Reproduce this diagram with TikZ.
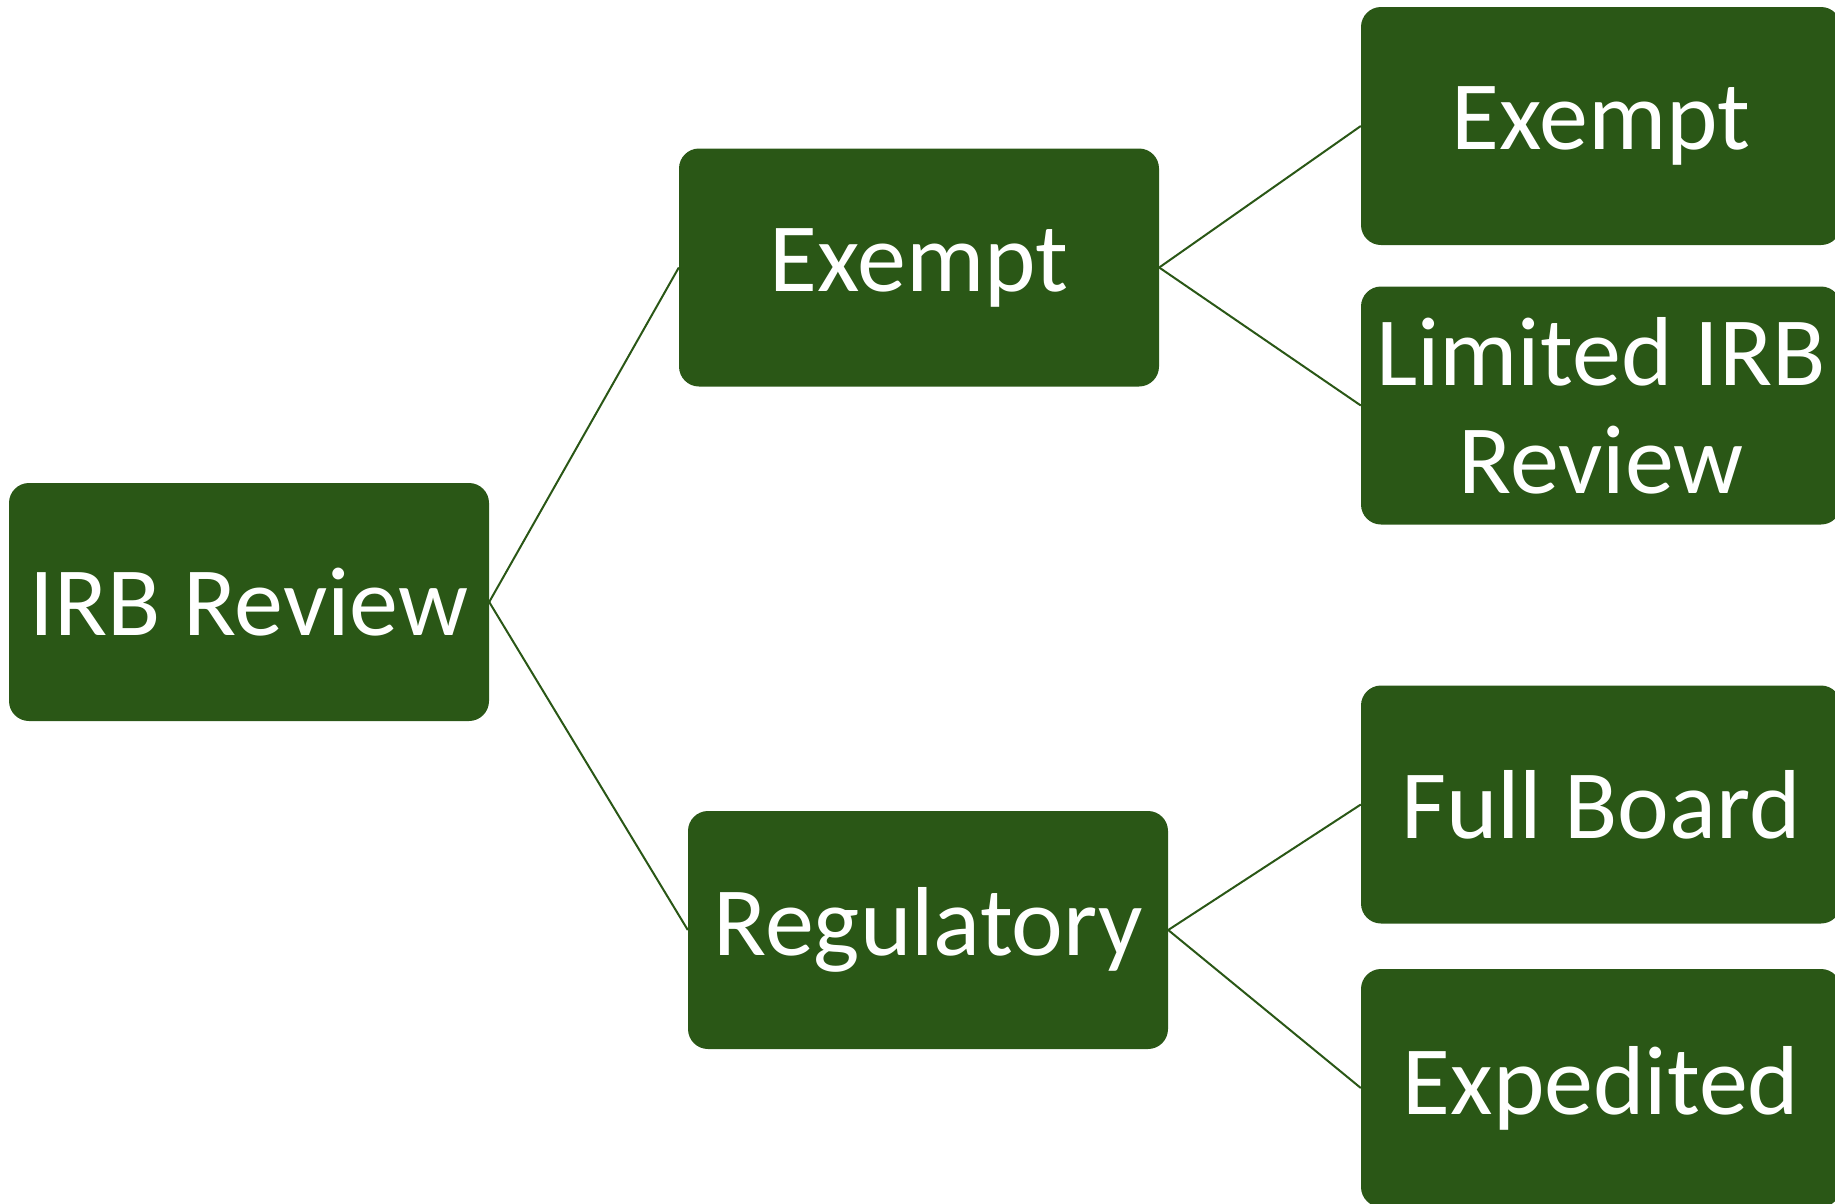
\documentclass[tikz,border=0pt]{standalone}
\usepackage{fontspec}
\setmainfont{Carlito}
\definecolor{leaf}{RGB}{42,87,22}
\begin{document}
\begin{tikzpicture}[x=1pt,y=-1pt,
  box/.style={draw=none, fill=leaf, rounded corners=20pt, minimum width=480pt,
    minimum height=238pt, inner sep=0pt, text=white, align=center,
    font=\fontsize{98}{108}\selectfont},
  link/.style={draw=leaf, line width=2pt}]
  \useasboundingbox (0,0) rectangle (1835,1203);
  \clip (0,0) rectangle (1835,1203);

  % tree nodes
  \node[box] (irb)  at (249,602)    {IRB Review};
  \node[box] (ex)   at (919,267.5)  {Exempt};
  \node[box] (reg)  at (928,930)    {Regulatory};
  \node[box] (ex2)  at (1601,126)   {Exempt};
  \node[box] (lim)  at (1601,405.5) {Limited IRB\\Review};
  \node[box] (full) at (1601,804.5) {Full Board};
  \node[box] (expd) at (1601,1088)  {Expedited};

  % branches
  \draw[link] (irb.east) -- (ex.west);
  \draw[link] (irb.east) -- (reg.west);
  \draw[link] (ex.east)  -- (ex2.west);
  \draw[link] (ex.east)  -- (lim.west);
  \draw[link] (reg.east) -- (full.west);
  \draw[link] (reg.east) -- (expd.west);
\end{tikzpicture}
\end{document}
